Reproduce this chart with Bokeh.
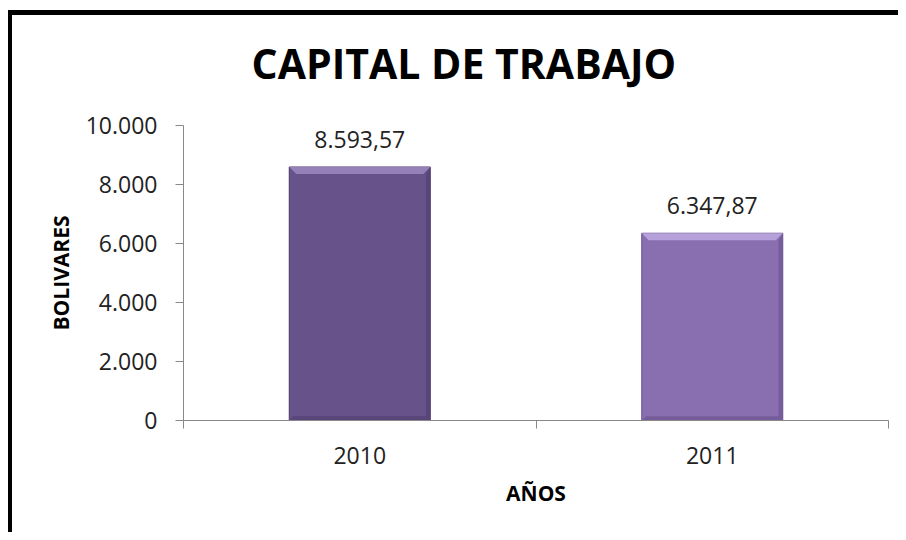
from bokeh.plotting import figure
from bokeh.models import FixedTicker, LabelSet, ColumnDataSource, Title
from bokeh.core.properties import value
from bokeh.embed import file_html
from bokeh.resources import INLINE

# ---- data ----
title_text = "CAPITAL DE TRABAJO"
years = ["2010", "2011"]
values = [8593.57, 6347.87]
y_ticks = [0, 2000, 4000, 6000, 8000, 10000]
y_tick_labels = ["0", "2.000", "4.000", "6.000", "8.000", "10.000"]
y_title = "BOLIVARES"
x_title = "AÑOS"
bar_colors = ["#67528a", "#8a6fb0"]
bevel_colors = ["#9883b9", "#b8a3dc"]
edge_colors = ["#4a3868", "#664f8c"]
dark_colors = ["#574478", "#735a99"]


def fmt_es(v):
    s = f"{v:,.2f}"
    return s.replace(",", "X").replace(".", ",").replace("X", ".")


n = len(years)
xs = [i + 0.5 for i in range(n)]
y_max = y_ticks[-1]
frame_w, frame_h = 705, 295
bar_w = 0.4
bev_y = 7 * y_max / frame_h
bev_x = 7 * n / frame_w

src = ColumnDataSource(dict(
    x=xs, top=values, color=bar_colors, edge=edge_colors,
    label=[fmt_es(v) for v in values],
))

# bevel shapes derived from the bar values
top_xs = [[x - bar_w / 2, x + bar_w / 2, x + bar_w / 2 - bev_x, x - bar_w / 2 + bev_x] for x in xs]
top_ys = [[v, v, v - bev_y, v - bev_y] for v in values]
right_xs = [[x + bar_w / 2, x + bar_w / 2, x + bar_w / 2 - bev_x * 0.6, x + bar_w / 2 - bev_x * 0.6] for x in xs]
right_ys = [[v, 0, bev_y * 0.6, v - bev_y] for v in values]
bot_xs = [[x - bar_w / 2, x + bar_w / 2, x + bar_w / 2 - bev_x * 0.6, x - bar_w / 2 + bev_x * 0.6] for x in xs]
bot_ys = [[0, 0, bev_y * 0.6, bev_y * 0.6] for v in values]

p = figure(width=890, height=522, x_range=(0, n), y_range=(0, y_max),
           output_backend="svg", toolbar_location=None,
           min_border_left=171, min_border_right=14, min_border_top=110, min_border_bottom=117)
p.styles = {"border-left": "4px solid black", "border-top": "5px solid black",
            "margin-top": "10px", "margin-left": "8px"}
p.outline_line_color = None
p.grid.visible = False
p.background_fill_color = "white"
p.border_fill_color = "white"

# bars
p.vbar(x="x", top="top", bottom=0, width=bar_w, source=src, fill_color="color",
       line_color="edge", line_width=1)
p.patches(right_xs, right_ys, fill_color=dark_colors, line_color=None, fill_alpha=0.9)
p.patches(bot_xs, bot_ys, fill_color=dark_colors, line_color=None, fill_alpha=0.9)
p.patches(top_xs, top_ys, fill_color=bevel_colors, line_color=None, fill_alpha=0.95)

labels = LabelSet(x="x", y="top", text="label", source=src, text_align="center",
                  text_baseline="alphabetic", y_offset=19, text_font=value("Open Sans"),
                  text_font_size=value("23px"), text_color="#222222")
p.add_layout(labels)

# spacer between frame and title
p.add_layout(Title(text=" ", text_font_size="1px", standoff=22), "above")

# title
p.title.text = title_text
p.title.text_font = "Open Sans"
p.title.text_font_style = "bold"
p.title.text_font_size = "41px"
p.title.text_color = "black"
p.title.align = "left"
p.title.offset = 68
p.title.standoff = 20

axis_gray = "#888888"

# x axis
xa = p.xaxis[0]
xa.ticker = FixedTicker(ticks=xs, minor_ticks=list(range(n + 1)))
xa.major_label_overrides = {x: y for x, y in zip(xs, years)}
xa.major_tick_out = 0
xa.major_tick_in = 0
xa.minor_tick_out = 8
xa.minor_tick_in = 0
xa.minor_tick_line_color = axis_gray
xa.axis_line_color = axis_gray
xa.major_label_text_font = "Open Sans"
xa.major_label_text_font_size = "23px"
xa.major_label_text_color = "#222222"
xa.major_label_standoff = 18
xa.axis_label = x_title
xa.axis_label_text_font = "Open Sans"
xa.axis_label_text_font_style = "bold"
xa.axis_label_text_font_size = "21px"
xa.axis_label_text_color = "black"
xa.axis_label_standoff = 12

# y axis
ya = p.yaxis[0]
ya.ticker = FixedTicker(ticks=y_ticks)
ya.major_label_overrides = {t: l for t, l in zip(y_ticks, y_tick_labels)}
ya.major_tick_out = 8
ya.major_tick_in = 0
ya.major_tick_line_color = axis_gray
ya.minor_tick_line_color = None
ya.axis_line_color = axis_gray
ya.major_label_text_font = "Open Sans"
ya.major_label_text_font_size = "23px"
ya.major_label_text_color = "#222222"
ya.major_label_standoff = 18
ya.axis_label = y_title
ya.axis_label_text_font = "Open Sans"
ya.axis_label_text_font_style = "bold"
ya.axis_label_text_font_size = "21px"
ya.axis_label_text_color = "black"
ya.axis_label_standoff = 8

open("out.html", "w").write(file_html(p, INLINE))
